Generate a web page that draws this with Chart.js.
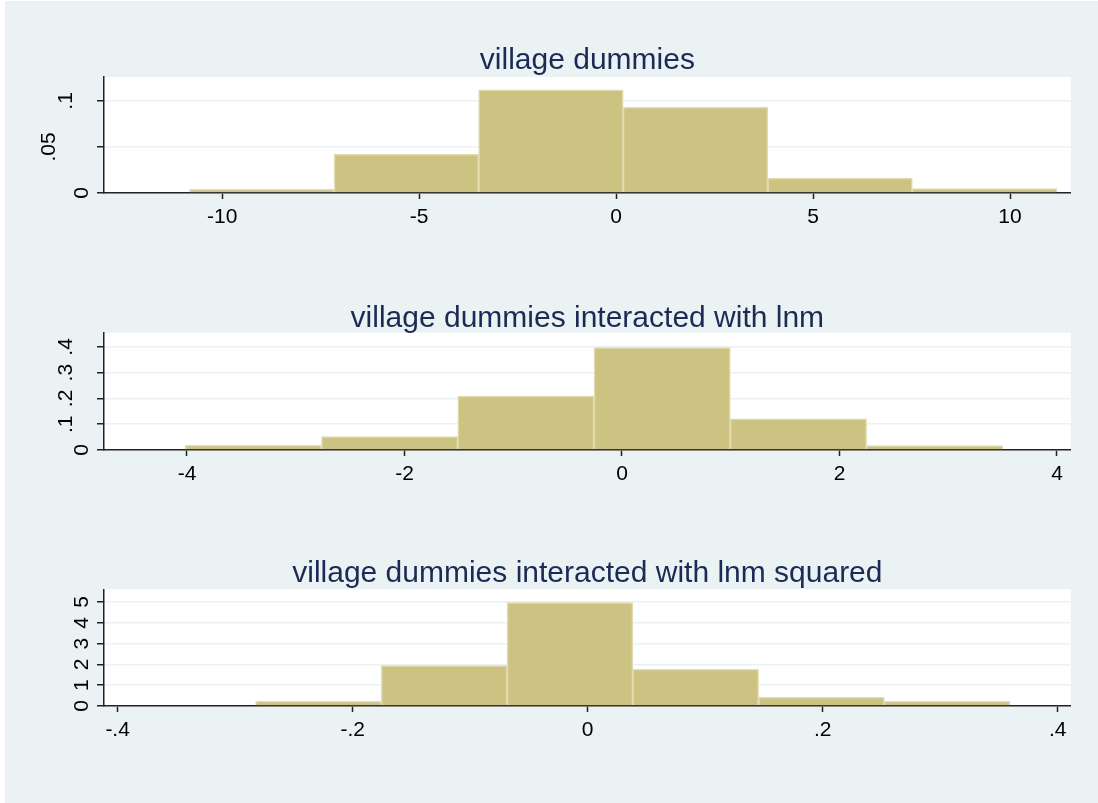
<!DOCTYPE html>
<html>
<head>
<meta charset="utf-8">
<script src="https://cdn.jsdelivr.net/npm/chart.js@4/dist/chart.umd.min.js"></script>
<style>
    body { margin: 0; background: #fff; width: 1098px; height: 803px; overflow: hidden; }
    canvas { position: absolute; left: 0; }
</style>
</head>
<body>
<canvas id="g1" width="1098" height="260" style="top:0"></canvas>
<canvas id="g2" width="1098" height="260" style="top:260px"></canvas>
<canvas id="g3" width="1098" height="283" style="top:520px"></canvas>
<script>
// panel 1: village dummies
const edges1 = [-10.83, -7.16, -3.49, 0.18, 3.85, 7.52, 11.19];
const dens1 = [0.004, 0.042, 0.112, 0.093, 0.0163, 0.0047];
const xTicks1 = [-10, -5, 0, 5, 10];
const yTicks1 = [0, 0.05, 0.1];

// panel 2: interacted with lnm
const edges2 = [-4.016, -2.763, -1.51, -0.257, 0.996, 2.249, 3.502];
const dens2 = [0.018, 0.052, 0.209, 0.397, 0.121, 0.017];
const xTicks2 = [-4, -2, 0, 2, 4];
const yTicks2 = [0, 0.1, 0.2, 0.3, 0.4];

// panel 3: interacted with lnm squared
const edges3 = [-0.2826, -0.1756, -0.0686, 0.0384, 0.1454, 0.2524, 0.3594];
const dens3 = [0.226, 1.94, 4.97, 1.76, 0.42, 0.226];
const xTicks3 = [-0.4, -0.2, 0, 0.2, 0.4];
const yTicks3 = [0, 1, 2, 3, 4, 5];

const bg = '#EAF2F3';
const ink = '#222';
const fontFam = 'Arial, "Liberation Sans", sans-serif';

// 0.05 -> ".05", -0.2 -> "-.2"
const fmt = v => v === 0 ? '0' : String(v).replace('0.', '.');

const stataLook = {
    id: 'stataLook',
    beforeDraw(chart, args, opts) {
        const { ctx, chartArea: a } = chart;
        ctx.save();
        ctx.fillStyle = '#fff';
        ctx.fillRect(0, 0, chart.width, chart.height);
        ctx.fillStyle = bg;
        ctx.fillRect(5, opts.topGap || 0, chart.width - 5, chart.height);
        ctx.fillStyle = '#fff';
        ctx.fillRect(a.left, a.top, a.right - a.left, a.bottom - a.top);
        ctx.restore();
    },
    afterDraw(chart, args, opts) {
        const { ctx, chartArea: a } = chart;
        ctx.save();
        ctx.fillStyle = '#1c2a56';
        ctx.font = '30px ' + fontFam;
        ctx.textAlign = 'center';
        ctx.textBaseline = 'alphabetic';
        ctx.fillText(opts.title, (a.left + a.right) / 2, opts.titleY);

        // vertical y labels, Stata style
        const ys = chart.scales.y;
        ctx.fillStyle = '#000';
        ctx.font = '21px ' + fontFam;
        ys.ticks.forEach(t => {
            const label = fmt(t.value);
            ctx.save();
            ctx.translate(88 - 16.5 * (label.length - 1), ys.getPixelForValue(t.value));
            ctx.rotate(-Math.PI / 2);
            ctx.fillText(label, 0, 0);
            ctx.restore();
        });
        ctx.restore();
    }
};

function histo(id, edges, dens, xTicks, yTicks, o) {
    const pts = dens.map((d, i) => ({ x: (edges[i] + edges[i + 1]) / 2, y: d }));
    return new Chart(document.getElementById(id), {
        type: 'bar',
        data: {
            datasets: [{
                data: pts,
                backgroundColor: '#CCC282',
                borderColor: '#E0DAAE',
                borderWidth: 1.5,
                barPercentage: 1,
                categoryPercentage: 1
            }]
        },
        options: {
            responsive: false,
            animation: false,
            devicePixelRatio: 1,
            layout: { padding: { left: 0, right: 27.3, top: o.top, bottom: 0 } },
            plugins: {
                legend: { display: false },
                tooltip: { enabled: false },
                stataLook: { title: o.title, titleY: o.titleY, topGap: o.topGap }
            },
            scales: {
                x: {
                    type: 'linear',
                    min: o.xMin,
                    max: o.xMax,
                    offset: false,
                    afterBuildTicks: s => { s.ticks = xTicks.map(v => ({ value: v })); },
                    afterFit: s => { s.height = o.xH; },
                    ticks: {
                        callback: v => fmt(v),
                        color: '#000',
                        font: { family: fontFam, size: 21 },
                        padding: 6,
                        maxRotation: 0,
                        autoSkip: false
                    },
                    grid: { offset: false, drawOnChartArea: false, tickLength: 6, tickColor: ink, tickWidth: 1.5 },
                    border: { color: ink, width: 1.5 }
                },
                y: {
                    min: 0,
                    max: o.yMax,
                    afterBuildTicks: s => { s.ticks = yTicks.map(v => ({ value: v })); },
                    afterFit: s => { s.width = 104; },
                    ticks: { display: false },
                    grid: { color: bg, lineWidth: 1.5, tickLength: 7, tickColor: ink, tickWidth: 1.5 },
                    border: { color: ink, width: 1.5 }
                }
            }
        },
        plugins: [stataLook]
    });
}

histo('g1', edges1, dens1, xTicks1, yTicks1, {
    title: 'village dummies', titleY: 68.5, topGap: 1,
    top: 77, xH: 67, xMin: -13.0, xMax: 11.54, yMax: 0.126
});
histo('g2', edges2, dens2, xTicks2, yTicks2, {
    title: 'village dummies interacted with lnm', titleY: 67,
    top: 72.7, xH: 70, xMin: -4.763, xMax: 4.126, yMax: 0.455
});
histo('g3', edges3, dens3, xTicks3, yTicks3, {
    title: 'village dummies interacted with lnm squared', titleY: 61.5,
    top: 69.3, xH: 97, xMin: -0.4116, xMax: 0.411, yMax: 5.61
});
</script>
</body>
</html>
